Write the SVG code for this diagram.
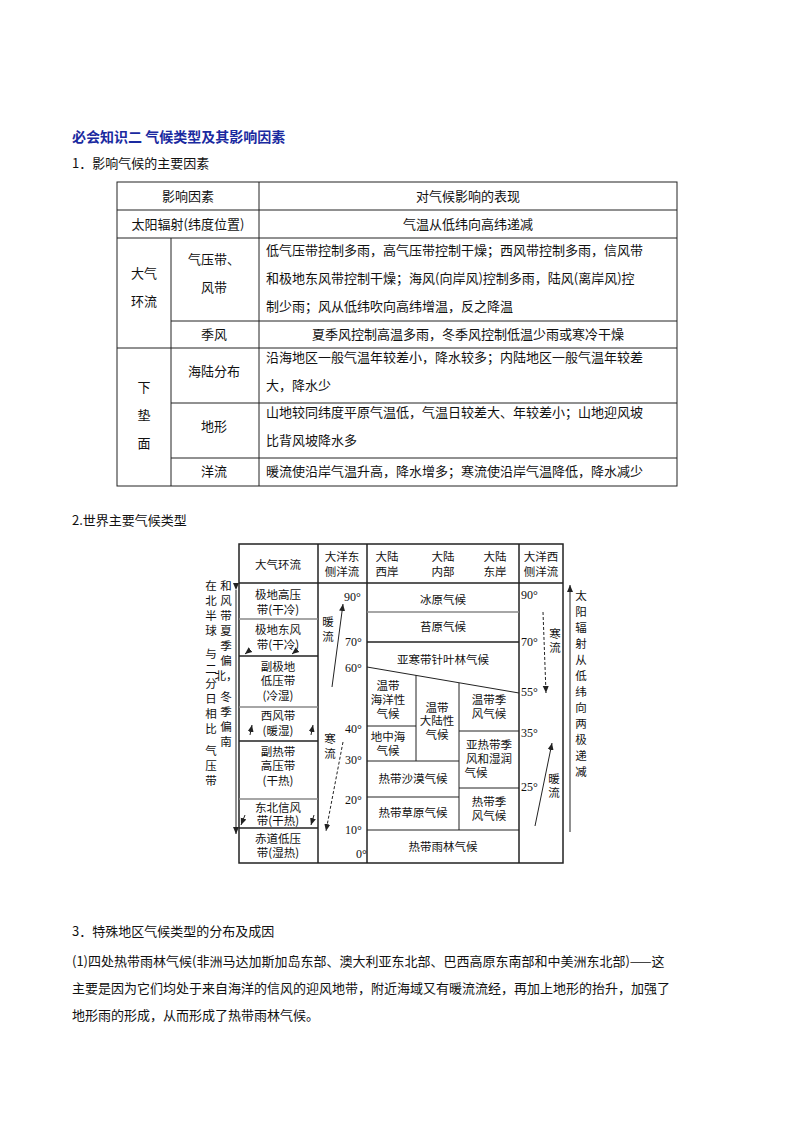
<svg xmlns="http://www.w3.org/2000/svg" width="794" height="1123" viewBox="0 0 794 1123">
<defs>
<marker id="ah" markerWidth="8" markerHeight="8" refX="7" refY="4" orient="auto" markerUnits="userSpaceOnUse"><path d="M0,1 L7,4 L0,7 Z" fill="#222"/></marker>
</defs>
<style>
text{font-family:"Noto Sans CJK SC","Liberation Sans",sans-serif;fill:#111;}
.t{font-size:13px;}
.c{font-size:13px;text-anchor:middle;}
.s{font-family:"Noto Sans CJK SC",sans-serif;font-size:11.5px;text-anchor:middle;}
.d{font-family:"Liberation Serif",serif;font-size:12px;}
.ln{stroke:#222;stroke-width:1;fill:none;}
.gl{stroke:#888;stroke-width:1.5;fill:none;}
.bd{stroke:#222;stroke-width:1.5;fill:none;}
</style>
<rect width="794" height="1123" fill="#fff"/>
<text x="72" y="142" style="font-size:14px;font-weight:bold;fill:#1a2aa0">必会知识二 气候类型及其影响因素</text>
<text x="72" y="168" class="t">1．影响气候的主要因素</text>

<g id="table1">
<rect x="117" y="182" width="560" height="304" class="ln"/>
<line x1="259" y1="182" x2="259" y2="486" class="ln"/>
<line x1="171" y1="238" x2="171" y2="486" class="ln"/>
<line x1="117" y1="210" x2="677" y2="210" class="ln"/>
<line x1="117" y1="238" x2="677" y2="238" class="ln"/>
<line x1="171" y1="321" x2="677" y2="321" class="ln"/>
<line x1="117" y1="348" x2="677" y2="348" class="ln"/>
<line x1="171" y1="403" x2="677" y2="403" class="ln"/>
<line x1="171" y1="458" x2="677" y2="458" class="ln"/>
<text x="188" y="201" class="c">影响因素</text>
<text x="468" y="201" class="c">对气候影响的表现</text>
<text x="188" y="229" class="c">太阳辐射(纬度位置)</text>
<text x="468" y="229" class="c">气温从低纬向高纬递减</text>
<text x="144" y="278" class="c">大气</text>
<text x="144" y="306" class="c">环流</text>
<text x="214" y="264" class="c">气压带、</text>
<text x="214" y="292" class="c">风带</text>
<text x="266" y="255" class="t">低气压带控制多雨，高气压带控制干燥；西风带控制多雨，信风带</text>
<text x="266" y="283" class="t">和极地东风带控制干燥；海风(向岸风)控制多雨，陆风(离岸风)控</text>
<text x="266" y="311" class="t">制少雨；风从低纬吹向高纬增温，反之降温</text>
<text x="214" y="339" class="c">季风</text>
<text x="468" y="339" class="c">夏季风控制高温多雨，冬季风控制低温少雨或寒冷干燥</text>
<text x="144" y="392" class="c">下</text>
<text x="144" y="420" class="c">垫</text>
<text x="144" y="448" class="c">面</text>
<text x="214" y="376" class="c">海陆分布</text>
<text x="266" y="362" class="t">沿海地区一般气温年较差小，降水较多；内陆地区一般气温年较差</text>
<text x="266" y="390" class="t">大，降水少</text>
<text x="214" y="431" class="c">地形</text>
<text x="266" y="417" class="t">山地较同纬度平原气温低，气温日较差大、年较差小；山地迎风坡</text>
<text x="266" y="445" class="t">比背风坡降水多</text>
<text x="214" y="476" class="c">洋流</text>
<text x="266" y="476" class="t">暖流使沿岸气温升高，降水增多；寒流使沿岸气温降低，降水减少</text>
</g>

<text x="72" y="525" class="t">2.世界主要气候类型</text>

<g id="climate">
<rect x="239" y="544" width="324" height="319" class="bd"/>
<line x1="318" y1="544" x2="318" y2="863" class="bd"/>
<line x1="367" y1="544" x2="367" y2="863" class="bd"/>
<line x1="519" y1="544" x2="519" y2="863" class="bd"/>
<line x1="239" y1="583" x2="563" y2="583" class="bd"/>
<line x1="239" y1="619" x2="318" y2="619" class="gl"/>
<line x1="239" y1="656" x2="318" y2="656" class="bd"/>
<line x1="239" y1="707" x2="318" y2="707" class="gl"/>
<line x1="239" y1="741" x2="318" y2="741" class="bd"/>
<line x1="239" y1="799" x2="318" y2="799" class="gl"/>
<line x1="239" y1="828" x2="318" y2="828" class="bd"/>
<line x1="367" y1="612" x2="519" y2="612" class="gl"/>
<line x1="367" y1="642" x2="519" y2="642" class="bd"/>
<line x1="367" y1="667" x2="519" y2="693" class="ln"/>
<line x1="416" y1="675" x2="416" y2="761" class="ln"/>
<line x1="459" y1="683" x2="459" y2="830" class="ln"/>
<line x1="367" y1="726" x2="416" y2="726" class="ln"/>
<line x1="367" y1="761" x2="459" y2="761" class="ln"/>
<line x1="459" y1="731" x2="519" y2="731" class="ln"/>
<line x1="459" y1="788" x2="519" y2="788" class="ln"/>
<line x1="367" y1="797" x2="459" y2="797" class="ln"/>
<line x1="367" y1="830" x2="519" y2="830" class="ln"/>

<text x="278" y="569" class="s">大气环流</text>
<text x="342" y="561" class="s">大洋东</text>
<text x="342" y="576" class="s">侧洋流</text>
<text x="387" y="561" class="s">大陆</text>
<text x="387" y="576" class="s">西岸</text>
<text x="443" y="561" class="s">大陆</text>
<text x="443" y="576" class="s">内部</text>
<text x="495" y="561" class="s">大陆</text>
<text x="495" y="576" class="s">东岸</text>
<text x="541" y="561" class="s">大洋西</text>
<text x="541" y="576" class="s">侧洋流</text>

<text x="278" y="599" class="s">极地高压</text>
<text x="278" y="614" class="s">带(干冷)</text>
<text x="278" y="634" class="s">极地东风</text>
<text x="278" y="649" class="s">带(干冷)</text>
<text x="278" y="671" class="s">副极地</text>
<text x="278" y="685" class="s">低压带</text>
<text x="278" y="700" class="s">(冷湿)</text>
<text x="278" y="720" class="s">西风带</text>
<text x="278" y="735" class="s">(暖湿)</text>
<text x="278" y="756" class="s">副热带</text>
<text x="278" y="770" class="s">高压带</text>
<text x="278" y="785" class="s">(干热)</text>
<text x="278" y="812" class="s">东北信风</text>
<text x="278" y="825" class="s">带(干热)</text>
<text x="278" y="843" class="s">赤道低压</text>
<text x="278" y="857" class="s">带(湿热)</text>

<text x="443" y="604" class="s">冰原气候</text>
<text x="443" y="631" class="s">苔原气候</text>
<text x="443" y="664" class="s">亚寒带针叶林气候</text>
<text x="388" y="690" class="s">温带</text>
<text x="388" y="704" class="s">海洋性</text>
<text x="388" y="718" class="s">气候</text>
<text x="388" y="741" class="s">地中海</text>
<text x="388" y="755" class="s">气候</text>
<text x="437" y="712" class="s">温带</text>
<text x="437" y="725" class="s">大陆性</text>
<text x="437" y="739" class="s">气候</text>
<text x="489" y="704" class="s">温带季</text>
<text x="489" y="718" class="s">风气候</text>
<text x="489" y="749" class="s">亚热带季</text>
<text x="489" y="763" class="s">风和湿润</text>
<text x="476" y="777" class="s">气候</text>
<text x="413" y="783" class="s">热带沙漠气候</text>
<text x="413" y="817" class="s">热带草原气候</text>
<text x="489" y="806" class="s">热带季</text>
<text x="489" y="820" class="s">风气候</text>
<text x="443" y="851" class="s">热带雨林气候</text>

<text x="344" y="601" class="d">90°</text>
<text x="345" y="646" class="d">70°</text>
<text x="345" y="672" class="d">60°</text>
<text x="345" y="733" class="d">40°</text>
<text x="345" y="764" class="d">30°</text>
<text x="345" y="804" class="d">20°</text>
<text x="345" y="834" class="d">10°</text>
<text x="356" y="858" class="d">0°</text>
<text x="521" y="599" class="d">90°</text>
<text x="521" y="646" class="d">70°</text>
<text x="521" y="696" class="d">55°</text>
<text x="521" y="737" class="d">35°</text>
<text x="521" y="791" class="d">25°</text>

<text x="328" y="626" class="s">暖</text>
<text x="328" y="641" class="s">流</text>
<text x="330" y="743" class="s">寒</text>
<text x="330" y="758" class="s">流</text>
<text x="555" y="638" class="s">寒</text>
<text x="555" y="652" class="s">流</text>
<text x="554" y="783" class="s">暖</text>
<text x="554" y="797" class="s">流</text>

<text x="211" y="590" class="s">在</text><text x="211" y="605" class="s">北</text><text x="211" y="620" class="s">半</text><text x="211" y="635" class="s">球</text>
<text x="211" y="658" class="s">与</text><text x="211" y="673" class="s">二</text><text x="211" y="688" class="s">分</text><text x="211" y="703" class="s">日</text><text x="211" y="718" class="s">相</text><text x="211" y="733" class="s">比</text>
<text x="211" y="755" class="s">气</text><text x="211" y="770" class="s">压</text><text x="211" y="785" class="s">带</text>
<text x="226" y="590" class="s">和</text><text x="226" y="605" class="s">风</text><text x="226" y="620" class="s">带</text><text x="226" y="635" class="s">夏</text><text x="226" y="650" class="s">季</text><text x="226" y="665" class="s">偏</text><text x="226" y="680" class="s">北，</text>
<text x="226" y="701" class="s">冬</text><text x="226" y="716" class="s">季</text><text x="226" y="731" class="s">偏</text><text x="226" y="746" class="s">南</text>
<text x="581" y="600" class="s">太</text><text x="581" y="616" class="s">阳</text><text x="581" y="632" class="s">辐</text><text x="581" y="648" class="s">射</text><text x="581" y="664" class="s">从</text><text x="581" y="680" class="s">低</text><text x="581" y="696" class="s">纬</text><text x="581" y="712" class="s">向</text><text x="581" y="728" class="s">两</text><text x="581" y="744" class="s">极</text><text x="581" y="760" class="s">递</text><text x="581" y="776" class="s">减</text>
</g>

<g id="connectors">
<line x1="236" y1="590" x2="236" y2="834" class="ln" marker-start="url(#ah)" marker-end="url(#ah)"/>
<line x1="570" y1="832" x2="570" y2="585" class="ln" marker-end="url(#ah)"/>
<line x1="332" y1="687" x2="343" y2="604" class="ln" marker-end="url(#ah)"/>
<line x1="343" y1="742" x2="326" y2="831" class="ln" stroke-dasharray="3,2" marker-end="url(#ah)"/>
<line x1="543" y1="612" x2="546" y2="693" class="ln" stroke-dasharray="3,2" marker-end="url(#ah)"/>
<line x1="535" y1="826" x2="552" y2="743" class="ln" marker-end="url(#ah)"/>
<line x1="250" y1="650" x2="245" y2="654" class="ln" marker-end="url(#ah)"/>
<line x1="297" y1="650" x2="292" y2="654" class="ln" marker-end="url(#ah)"/>
<line x1="250" y1="735" x2="252" y2="725" class="ln" marker-end="url(#ah)"/>
<line x1="311" y1="735" x2="313" y2="725" class="ln" marker-end="url(#ah)"/>
<line x1="245" y1="815" x2="241" y2="825" class="ln" marker-end="url(#ah)"/>
<line x1="314" y1="815" x2="311" y2="825" class="ln" marker-end="url(#ah)"/>
</g>

<text x="72" y="936" class="t">3．特殊地区气候类型的分布及成因</text>
<text x="72" y="966" class="t">(1)四处热带雨林气候(非洲马达加斯加岛东部、澳大利亚东北部、巴西高原东南部和中美洲东北部)——这</text>
<text x="72" y="993" class="t">主要是因为它们均处于来自海洋的信风的迎风地带，附近海域又有暖流流经，再加上地形的抬升，加强了</text>
<text x="72" y="1020" class="t">地形雨的形成，从而形成了热带雨林气候。</text>
</svg>
